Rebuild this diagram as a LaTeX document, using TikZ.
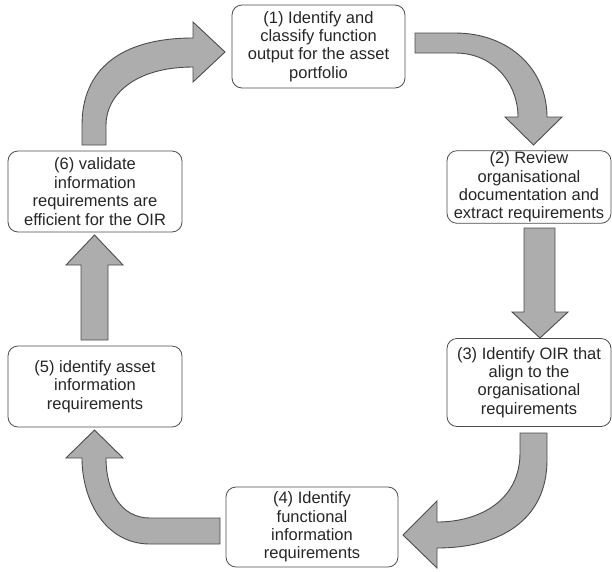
\documentclass[tikz,border=0pt]{standalone}
\usepackage{fontspec}
\setmainfont{Liberation Sans}
\tikzstyle{block} = [rectangle, draw=black!70, line width=0.8pt, text=black!85,
    align=center, rounded corners=10pt, minimum width=173pt, minimum height=81pt,
    inner sep=1pt, font=\fontsize{16.5}{18.4}\selectfont]
\tikzstyle{bigarrow} = [draw=black!70, fill=black!32, line width=0.9pt]

\begin{document}
\begin{tikzpicture}[x=1pt, y=-1pt]
    \useasboundingbox (0,0) rectangle (612,571);
    % Place nodes
    \node [block, minimum height=83pt] (identify) at (318.5,46.5) {(1) Identify and\\classify function\\output for the asset\\portfolio};
    \node [block, minimum width=164pt, minimum height=71pt] (review) at (529,187) {(2) Review\\organisational\\documentation and\\extract requirements};
    \node [block, minimum width=164pt, minimum height=88pt, below of=review, node distance=195.5pt] (oir) {(3) Identify OIR that\\align to the\\organisational\\requirements};
    \node [block, minimum width=172pt, minimum height=80pt] (functional) at (312,527) {(4) Identify\\functional\\information\\requirements};
    \node [block, minimum width=174pt] (validate) at (95,191.5) {(6) validate\\information\\requirements are\\efficient for the OIR};
    \node [block, minimum width=174pt, below of=validate, node distance=195pt] (asset) {(5) identify asset\\information\\requirements};
    % Draw the big arrows
    % (6) -> (1)
    \draw [bigarrow] (82,145) -- (82,125) .. controls (82,70) and (120,38) .. (193,38) -- (193,22)
        -- (225,52) -- (193,82) -- (193,67) .. controls (135,67) and (106,95) .. (106,125)
        -- (106,145) -- cycle;
    % (1) -> (2)
    \draw [bigarrow] (415,33) -- (455,33) .. controls (510,33) and (547,70) .. (547,117)
        -- (562,117) -- (533.5,145) -- (505,117) -- (518,117)
        .. controls (518,85) and (495,53) .. (455,53) -- (415,53) -- cycle;
    % (2) -> (3)
    \draw [bigarrow] (524,228) -- (555,228) -- (555,312) -- (568,312) -- (540,338)
        -- (512,312) -- (524,312) -- cycle;
    % (3) -> (4)
    \draw [bigarrow] (547,433) -- (547,460) .. controls (547,520) and (500,548) .. (437,548)
        -- (437,568) -- (403,535) -- (437,501) -- (437,522)
        .. controls (480,522) and (520,500) .. (520,453) -- (520,433) -- cycle;
    % (4) -> (5)
    \draw [bigarrow] (220,544) -- (150,544) .. controls (105,544) and (82,500) .. (82,458)
        -- (66,458) -- (94.5,430) -- (123,458) -- (106,458)
        .. controls (106,490) and (120,518) .. (150,518) -- (220,518) -- cycle;
    % (5) -> (6)
    \draw [bigarrow] (81,340) -- (81,265) -- (66,265) -- (94.5,235) -- (123,265)
        -- (108,265) -- (108,340) -- cycle;
\end{tikzpicture}
\end{document}
